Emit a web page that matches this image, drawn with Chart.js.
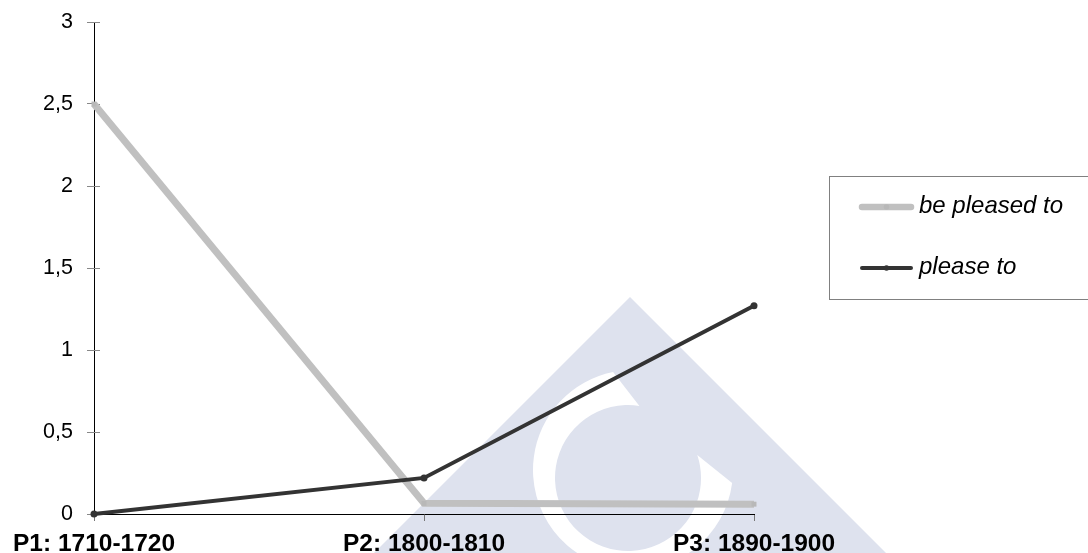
<!DOCTYPE html>
<html>
<head>
<meta charset="utf-8">
<script src="https://cdn.jsdelivr.net/npm/chart.js@4/dist/chart.umd.min.js"></script>
<style>
  html, body { margin: 0; padding: 0; background: #fff; overflow: hidden; }
  #c { display: block; }
</style>
</head>
<body>
<canvas id="c" width="1088" height="553"></canvas>
<script>
// Periods and frequencies
const periods = ['P1: 1710-1720', 'P2: 1800-1810', 'P3: 1890-1900'];
const bePleasedTo = [2.5, 0.065, 0.06];
const pleaseTo = [0, 0.22, 1.27];
const yTickValues = [0, 0.5, 1, 1.5, 2, 2.5, 3];
const seriesNames = ['be pleased to', 'please to'];

const FONT = '"Liberation Sans", Arial, Helvetica, sans-serif';
Chart.defaults.font.family = FONT;

// Pale emblem behind the plot
const emblem = {
  id: 'emblem',
  beforeDraw(chart) {
    const ctx = chart.ctx;
    ctx.save();
    ctx.fillStyle = '#ffffff';
    ctx.fillRect(0, 0, chart.width, chart.height);
    ctx.fillStyle = 'rgb(222,226,238)';
    ctx.beginPath();
    ctx.moveTo(630, 297);
    ctx.lineTo(936, 603);
    ctx.lineTo(324, 603);
    ctx.closePath();
    ctx.fill();
    const d = Math.PI / 180;
    ctx.fillStyle = '#ffffff';
    ctx.beginPath();
    ctx.arc(633, 470, 100, 7.5 * d, 258.5 * d, false);
    ctx.arc(628, 478, 73, 279 * d, -18.4 * d, true);
    ctx.closePath();
    ctx.fill();
    ctx.restore();
  }
};

// Tick marks that cross the value axis into the plot
const crossTicks = {
  id: 'crossTicks',
  beforeDatasetsDraw(chart) {
    const y = chart.scales.y, ctx = chart.ctx;
    const x0 = chart.chartArea.left;
    ctx.save();
    ctx.strokeStyle = '#888888';
    ctx.lineWidth = 1;
    y.ticks.forEach(t => {
      const py = Math.round(y.getPixelForValue(t.value)) + 0.5;
      ctx.beginPath();
      ctx.moveTo(x0, py);
      ctx.lineTo(x0 + 6, py);
      ctx.stroke();
    });
    ctx.restore();
  }
};

// Boxed legend on the right
const boxLegend = {
  id: 'boxLegend',
  afterDraw(chart) {
    const ctx = chart.ctx;
    const left = 829.5, top = 176.5, h = 123;
    ctx.save();
    ctx.strokeStyle = '#808080';
    ctx.lineWidth = 1;
    ctx.strokeRect(left, top, 300, h);
    chart.data.datasets.forEach((ds, i) => {
      const y = 207 + i * 61;
      ctx.strokeStyle = ds.borderColor;
      ctx.lineWidth = ds.legendWidth;
      ctx.lineCap = 'round';
      ctx.beginPath();
      ctx.moveTo(862, y);
      ctx.lineTo(911, y);
      ctx.stroke();
      ctx.fillStyle = ds.pointBackgroundColor;
      ctx.beginPath();
      ctx.arc(886.5, y, 2.8, 0, Math.PI * 2);
      ctx.fill();
      ctx.fillStyle = '#000000';
      ctx.font = 'italic 24px ' + FONT;
      ctx.textBaseline = 'middle';
      ctx.textAlign = 'left';
      ctx.fillText(ds.label, 919, y - 1);
    });
    ctx.restore();
  }
};

new Chart(document.getElementById('c'), {
  type: 'line',
  data: {
    labels: periods,
    datasets: [
      {
        label: seriesNames[0],
        data: bePleasedTo,
        borderColor: '#c0c0c0',
        borderWidth: 7,
        legendWidth: 6.5,
        pointStyle: 'rect',
        pointRadius: 3.5,
        pointBackgroundColor: '#b8b8b8',
        pointBorderWidth: 0,
        tension: 0,
        clip: false,
        order: 2
      },
      {
        label: seriesNames[1],
        data: pleaseTo,
        borderColor: '#333333',
        borderWidth: 4,
        legendWidth: 4,
        pointStyle: 'circle',
        pointRadius: 3.5,
        pointBackgroundColor: '#333333',
        pointBorderWidth: 0,
        tension: 0,
        clip: false,
        order: 1
      }
    ]
  },
  options: {
    responsive: false,
    animation: false,
    devicePixelRatio: 1,
    events: [],
    layout: { padding: { top: 22, right: 334, left: 0, bottom: 0 } },
    plugins: {
      legend: { display: false },
      tooltip: { enabled: false },
      title: { display: false }
    },
    scales: {
      x: {
        type: 'category',
        offset: false,
        grid: { drawOnChartArea: false, drawTicks: true, tickLength: 7, color: '#777777' },
        border: { display: true, color: '#000000', width: 1 },
        ticks: {
          color: '#000000',
          font: { size: 24.5, weight: 'bold' },
          padding: 9,
          maxRotation: 0,
          autoSkip: false
        },
        afterFit(s) { s.height = 39; s.paddingLeft = 0; s.paddingRight = 0; }
      },
      y: {
        min: 0,
        max: 3,
        grid: { drawOnChartArea: false, drawTicks: true, tickLength: 7, color: '#888888' },
        border: { display: true, color: '#000000', width: 1 },
        ticks: {
          color: '#000000',
          font: { size: 21.5 },
          padding: 14,
          callback: v => String(v).replace('.', ',')
        },
        afterBuildTicks(s) { s.ticks = yTickValues.map(v => ({ value: v })); },
        afterFit(s) { s.width = 94; s.paddingTop = 0; s.paddingBottom = 0; }
      }
    }
  },
  plugins: [emblem, crossTicks, boxLegend]
});
</script>
</body>
</html>
